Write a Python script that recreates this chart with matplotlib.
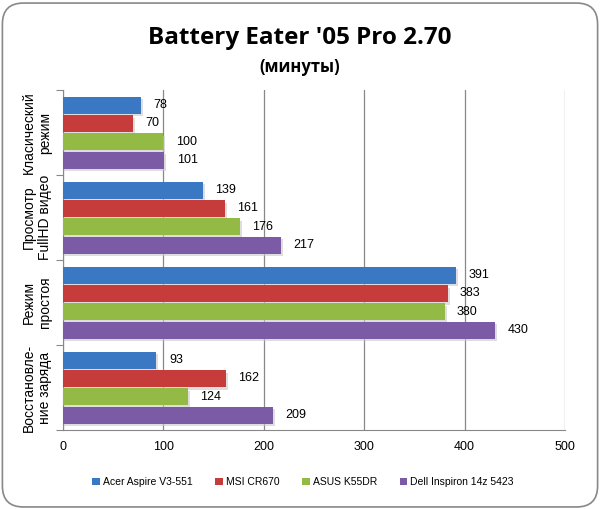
import matplotlib
matplotlib.use("Agg")
import matplotlib.pyplot as plt
from matplotlib.patches import FancyBboxPatch
import numpy as np

categories = ["Класический\nрежим", "Просмотр\nFullHD видео", "Режим\nпростоя", "Восстановле-\nние заряда"]
series_names = ["Acer Aspire V3-551", "MSI CR670", "ASUS K55DR", "Dell Inspiron 14z 5423"]
acer = [78, 139, 391, 93]
msi = [70, 161, 383, 162]
asus = [100, 176, 380, 124]
dell = [101, 217, 430, 209]
colors = ["#3A78C4", "#C63C3A", "#92BA45", "#7B5AA6"]
xticks = [0, 100, 200, 300, 400, 500]

plt.rcParams['font.family'] = ['Liberation Sans', 'DejaVu Sans']

fig = plt.figure(figsize=(6.0, 5.09), dpi=100)
fig.patch.set_facecolor("white")
border = FancyBboxPatch((0.004, 0.004), 0.992, 0.99, boxstyle="round,pad=0,rounding_size=0.035",
                        transform=fig.transFigure, facecolor="none", edgecolor="#888888", lw=1.2,
                        mutation_aspect=600/509, zorder=5)
fig.patches.append(border)

ax = fig.add_axes([0.105, 0.155, 0.8367, 0.668])
ax.set_facecolor("none")

all_series = [acer, msi, asus, dell]
stride = 0.215
h = 0.2
y = np.arange(len(categories))
for i, (vals, c, name) in enumerate(zip(all_series, colors, series_names)):
    pos = y + (i - 1.5) * stride
    # shadow
    ax.barh(pos + 0.03, [v + 2 for v in vals], height=h, color="#c8c8c8", alpha=0.6, left=0, zorder=2)
    ax.barh(pos, vals, height=h, color=c, label=name, zorder=3)
    for p, v in zip(pos, vals):
        ax.annotate(str(v), (v, p), xytext=(9, 0), textcoords="offset points",
                    va="center", ha="left", fontsize=9, zorder=4)

ax.set_xlim(0, 500)
ax.set_ylim(3.5, -0.5)
ax.set_xticks(xticks)
ax.set_xticklabels([str(t) for t in xticks], fontsize=9)
ax.xaxis.grid(True, color="#888888", lw=0.9)
ax.set_axisbelow(True)
ax.set_yticks(np.arange(-0.5, 4, 1.0))
ax.set_yticklabels([])
ax.tick_params(axis="y", length=5, color="#888888", direction="out")
ax.tick_params(axis="x", length=0, pad=8)
for s in ["top", "right"]:
    ax.spines[s].set_visible(False)
ax.spines["left"].set_color("#888888")
ax.spines["bottom"].set_color("#888888")

for yi, cat in zip(y, categories):
    ax.text(-0.052, yi, cat, transform=ax.get_yaxis_transform(), rotation=90,
            ha="center", va="center", fontsize=10, linespacing=1.15)

fig.text(0.5, 0.925, "Battery Eater '05 Pro 2.70", ha="center", va="center",
         fontsize=17.5, fontweight="bold", family=["Open Sans", "DejaVu Sans"])
fig.text(0.5, 0.868, "(минуты)", ha="center", va="center",
         fontsize=12, fontweight="bold", family=["Open Sans", "DejaVu Sans"])

handles, labels = ax.get_legend_handles_labels()
fig.legend(handles, labels, loc="center", bbox_to_anchor=(0.505, 0.053), ncol=4, frameon=False,
           fontsize=7.5, handlelength=0.7, handleheight=0.7, handletextpad=0.3, columnspacing=2.2)

fig.savefig("out.png", dpi=100)
